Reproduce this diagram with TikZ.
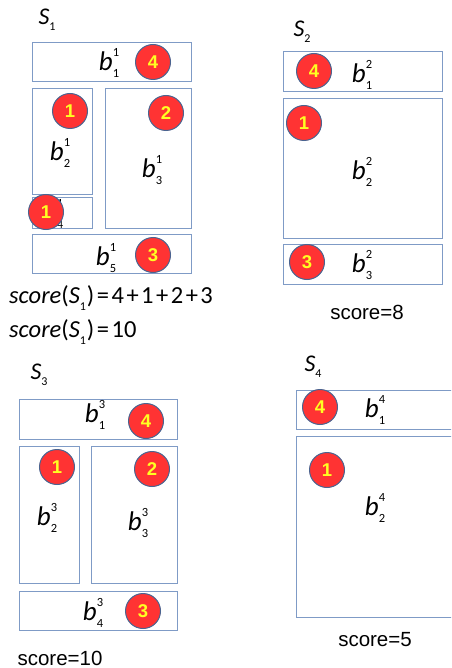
\documentclass[tikz,border=0pt]{standalone}
\usepackage{fontspec}
\setmainfont{Carlito}
\newfontfamily\digitfont{Liberation Sans}
\usetikzlibrary{positioning}

\definecolor{boxline}{HTML}{7F9BC6}
\definecolor{dotred}{HTML}{FF3333}
\definecolor{dotline}{HTML}{4A6490}
\definecolor{dotnum}{HTML}{FFFF22}

\newcommand{\blk}[2]{\textit{b}\rlap{\raisebox{1.1ex}{\fontsize{12.5}{12.5}\selectfont #2}}\raisebox{-0.55ex}{\fontsize{12.5}{12.5}\selectfont #1}}
\newcommand{\setlab}[1]{\textit{S}\raisebox{-0.55ex}{\fontsize{12}{12}\selectfont #1}}
\newcommand{\gap}[1]{\kern2.5pt#1\kern2.5pt}

\tikzset{
  bin/.style={draw=boxline,line width=1pt},
  dot/.style={circle,fill=dotred,draw=dotline,line width=1pt,minimum size=35pt,inner sep=0pt,
    text=dotnum,font=\digitfont\bfseries\fontsize{18.5}{18.5}\selectfont},
  blab/.style={font=\fontsize{27}{27}\selectfont},
  slab/.style={font=\fontsize{24}{24}\selectfont},
  sline/.style={font=\fontsize{24.5}{24.5}\selectfont,anchor=west,inner sep=0pt},
  score/.style={font=\digitfont\fontsize{20.5}{20.5}\selectfont},
}

\begin{document}
\begin{tikzpicture}[x=1pt,y=-1pt]
  \useasboundingbox (0,0) rectangle (451,668);
  \clip (0,0) rectangle (451,668);

  % S_1
  \node[slab] (s1) at (47,20) {\setlab{1}};
  \draw[bin] (32,43) rectangle (191,82);
  \draw[bin] (32,89) rectangle (92,195);
  \draw[bin] (32,198) rectangle (92,228);
  \draw[bin] (105,89) rectangle (191,228);
  \draw[bin] (32,234) rectangle (191,273);
  \node[blab] (b11) at (109,63) {\blk{1}{1}};
  \node[blab] (b12) at (60,153) {\blk{2}{1}};
  \node[blab] (b13) at (152,170) {\blk{3}{1}};
  \node[blab] (b14) at (53,214) {\blk{4}{1}};
  \node[blab] (b15) at (106,258) {\blk{5}{1}};
  \node[dot] (d11) at (153,62) {4};
  \node[dot] (d12) at (70,111) {1};
  \node[dot] (d13) at (166,113) {2};
  \node[dot] (d14) at (46,212) {1};
  \node[dot] (d15) at (153,255) {3};
  \node[sline] (sc1a) at (9,298) {\textit{score}(\setlab{1}\kern1pt)\gap{=}4\gap{+}1\gap{+}2\gap{+}3};
  \node[sline] (sc1b) at (9,332) {\textit{score}(\setlab{1}\kern1pt)\gap{=}10};

  % S_2
  \node[slab] (s2) at (302,32) {\setlab{2}};
  \draw[bin] (283,52) rectangle (442,92);
  \draw[bin] (283,99) rectangle (442,238);
  \draw[bin] (283,244) rectangle (442,284);
  \node[blab] (b21) at (362,75) {\blk{1}{2}};
  \node[blab] (b22) at (362,172) {\blk{2}{2}};
  \node[blab] (b23) at (362,265) {\blk{3}{2}};
  \node[dot] (d21) at (314,71) {4};
  \node[dot] (d22) at (304,123) {1};
  \node[dot] (d23) at (307,262) {3};
  \node[score] (sc2) at (367,312) {score=8};

  % S_3
  \node[slab] (s3) at (39,375) {\setlab{3}};
  \draw[bin] (19,399) rectangle (177,439);
  \draw[bin] (19,446) rectangle (79,583);
  \draw[bin] (91,446) rectangle (177,583);
  \draw[bin] (19,591) rectangle (177,630);
  \node[blab] (b31) at (95,415) {\blk{1}{3}};
  \node[blab] (b32) at (47,518) {\blk{2}{3}};
  \node[blab] (b33) at (138,523) {\blk{3}{3}};
  \node[blab] (b34) at (93,613) {\blk{4}{3}};
  \node[dot] (d31) at (146,421) {4};
  \node[dot] (d32) at (57,467) {1};
  \node[dot] (d33) at (152,469) {2};
  \node[dot] (d34) at (143,611) {3};
  \node[score,anchor=west] (sc3) at (14,658) {score=10};

  % S_4
  \node[slab] (s4) at (313,367) {\setlab{4}};
  \draw[bin] (296,390) rectangle (470,429);
  \draw[bin] (296,436) rectangle (470,617);
  \node[blab] (b41) at (375,410) {\blk{1}{4}};
  \node[blab] (b42) at (375,508) {\blk{2}{4}};
  \node[dot] (d41) at (320,407) {4};
  \node[dot] (d42) at (327,470) {1};
  \node[score] (sc4) at (375,640) {score=5};
\end{tikzpicture}
\end{document}
